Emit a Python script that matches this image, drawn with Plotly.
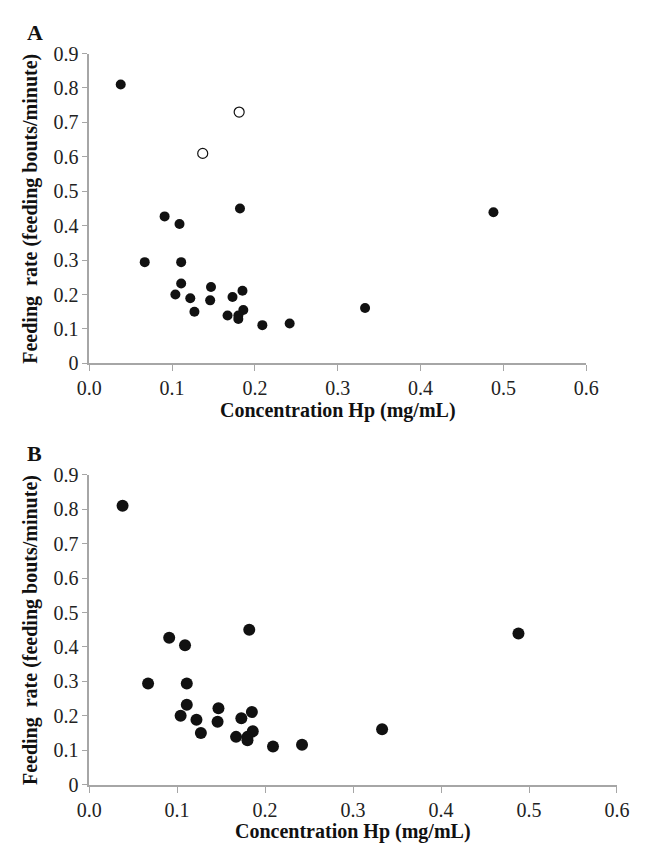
import plotly.graph_objects as go

# Data
conc_filled = [0.038, 0.091, 0.109, 0.182, 0.067, 0.111, 0.111, 0.104, 0.122, 0.127, 0.147,
               0.146, 0.173, 0.185, 0.186, 0.167, 0.180, 0.180, 0.209, 0.242, 0.333, 0.488]
rate_filled = [0.810, 0.427, 0.405, 0.450, 0.294, 0.294, 0.232, 0.200, 0.189, 0.150, 0.222,
               0.183, 0.193, 0.211, 0.155, 0.139, 0.139, 0.129, 0.111, 0.116, 0.161, 0.439]
conc_open = [0.137, 0.181]
rate_open = [0.610, 0.730]

x_ticks = [0.0, 0.1, 0.2, 0.3, 0.4, 0.5, 0.6]
x_ticklabels = ["0.0", "0.1", "0.2", "0.3", "0.4", "0.5", "0.6"]
y_ticks = [0, 0.1, 0.2, 0.3, 0.4, 0.5, 0.6, 0.7, 0.8, 0.9]
y_ticklabels = ["0", "0.1", "0.2", "0.3", "0.4", "0.5", "0.6", "0.7", "0.8", "0.9"]

W, H = 646, 851
FONT = "Times New Roman, Liberation Serif, DejaVu Serif, serif"
AX = "#a6a6a6"
MK = "#111111"

fig = go.Figure()
fig.add_trace(go.Scatter(x=conc_filled, y=rate_filled, mode="markers", xaxis="x", yaxis="y",
                         marker=dict(size=10, color=MK, line=dict(width=0)), showlegend=False))
fig.add_trace(go.Scatter(x=conc_open, y=rate_open, mode="markers", xaxis="x", yaxis="y",
                         marker=dict(size=10, color="white", line=dict(width=1.2, color=MK)),
                         showlegend=False))
fig.add_trace(go.Scatter(x=conc_filled, y=rate_filled, mode="markers", xaxis="x2", yaxis="y2",
                         marker=dict(size=12, color=MK, line=dict(width=0)), showlegend=False))

def xax(domain, anchor):
    return dict(domain=domain, anchor=anchor, range=[0, 0.6], tickvals=x_ticks,
                ticktext=x_ticklabels, showgrid=False, zeroline=False, showline=True,
                linecolor=AX, linewidth=1.5, ticks="outside", ticklen=6, tickcolor=AX,
                tickwidth=1, tickfont=dict(family=FONT, size=20, color="#222"), fixedrange=True)

def yax(domain, anchor):
    return dict(domain=domain, anchor=anchor, range=[0, 0.9], tickvals=y_ticks,
                ticktext=y_ticklabels, showgrid=False, zeroline=False, showline=True,
                linecolor=AX, linewidth=1.5, ticks="outside", ticklen=5, tickcolor=AX,
                tickwidth=1, tickfont=dict(family=FONT, size=20, color="#222"), fixedrange=True)

# pixel geometry
A_x0, A_x1, A_ytop, A_ybot = 79.3, 596.3, 43.7, 361.7
B_x0, B_x1, B_ytop, B_ybot = 79.2, 628.3, 476.0, 794.3

fig.update_layout(
    width=W, height=H, margin=dict(l=0, r=0, t=0, b=0),
    paper_bgcolor="white", plot_bgcolor="white",
    xaxis=xax([A_x0 / W, A_x1 / W], "y"),
    yaxis=yax([1 - A_ybot / H, 1 - A_ytop / H], "x"),
    xaxis2=xax([B_x0 / W, B_x1 / W], "y2"),
    yaxis2=yax([1 - B_ybot / H, 1 - B_ytop / H], "x2"),
)

ann = []
title_font = dict(family=FONT, size=20, color="#111")
ytitle = "Feeding  rate (feeding bouts/minute)"
xtitle = "Concentration Hp (mg/mL)"
for (x0, x1, yt, yb, lab) in [(A_x0, A_x1, A_ytop, A_ybot, "A"), (B_x0, B_x1, B_ytop, B_ybot, "B")]:
    ann.append(dict(text="<b>" + ytitle.replace("  ", "&nbsp; ") + "</b>", x=18 / W,
                    y=1 - ((yt + yb) / 2) / H, xref="paper", yref="paper",
                    showarrow=False, textangle=-90, font=title_font, xanchor="center", yanchor="middle"))
    ann.append(dict(text="<b>" + xtitle + "</b>", x=((x0 + x1) / 2) / W, y=1 - (yb + 48) / H,
                    xref="paper", yref="paper",
                    showarrow=False, font=title_font, xanchor="center", yanchor="middle"))
    ann.append(dict(text="<b>" + lab + "</b>", x=12 / W, y=1 - (yt - 22) / H, xref="paper", yref="paper",
                    showarrow=False, font=dict(family=FONT, size=22, color="#111"),
                    xanchor="left", yanchor="middle"))
fig.update_layout(annotations=ann)

fig.write_html("out.html")
